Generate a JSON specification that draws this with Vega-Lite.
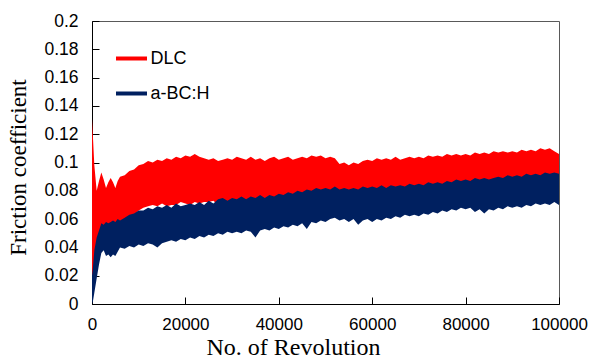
{
  "$schema": "https://vega.github.io/schema/vega-lite/v6.json",
  "width": 467,
  "height": 283,
  "autosize": {"type": "none"},
  "padding": {"left": 92, "top": 21, "right": 34, "bottom": 56},
  "background": "white",
  "config": {
    "view": {"stroke": "#595959", "strokeWidth": 1},
    "axis": {
      "grid": false,
      "domainColor": "#000000",
      "domainWidth": 1,
      "tickColor": "#000000",
      "tickWidth": 1,
      "labelColor": "#000000",
      "titleColor": "#000000",
      "labelFont": "Liberation Sans",
      "labelFontSize": 17,
      "titleFont": "Liberation Serif",
      "titleFontWeight": "normal"
    },
    "legend": {
      "orient": "none",
      "legendX": 22,
      "legendY": 20,
      "symbolType": "stroke",
      "symbolSize": 961,
      "symbolStrokeWidth": 4,
      "symbolOpacity": 1,
      "labelFont": "Liberation Sans",
      "labelFontSize": 18,
      "labelColor": "#000000",
      "rowPadding": 8,
      "labelOffset": 1.5
    }
  },
  "resolve": {"axis": {"x": "independent", "y": "independent"}},
  "data": {
    "values": [
      {"r": 0, "dh": 0.131, "dl": 0.018, "bh": 0.020, "bl": 0.000},
      {"r": 200, "dh": 0.118, "dl": 0.015, "bh": 0.026, "bl": 0.002},
      {"r": 500, "dh": 0.098, "dl": 0.030, "bh": 0.038, "bl": 0.008},
      {"r": 1000, "dh": 0.080, "dl": 0.044, "bh": 0.047, "bl": 0.018},
      {"r": 1500, "dh": 0.087, "dl": 0.049, "bh": 0.052, "bl": 0.028},
      {"r": 2000, "dh": 0.093, "dl": 0.054, "bh": 0.057, "bl": 0.036},
      {"r": 2500, "dh": 0.088, "dl": 0.053, "bh": 0.056, "bl": 0.038},
      {"r": 3000, "dh": 0.082, "dl": 0.055, "bh": 0.058, "bl": 0.034},
      {"r": 3500, "dh": 0.086, "dl": 0.054, "bh": 0.057, "bl": 0.035},
      {"r": 4000, "dh": 0.089, "dl": 0.055, "bh": 0.058, "bl": 0.033},
      {"r": 4500, "dh": 0.086, "dl": 0.055, "bh": 0.059, "bl": 0.035},
      {"r": 5000, "dh": 0.082, "dl": 0.055, "bh": 0.058, "bl": 0.034},
      {"r": 5500, "dh": 0.087, "dl": 0.056, "bh": 0.060, "bl": 0.037},
      {"r": 6000, "dh": 0.090, "dl": 0.056, "bh": 0.059, "bl": 0.040},
      {"r": 7000, "dh": 0.091, "dl": 0.059, "bh": 0.061, "bl": 0.039},
      {"r": 8000, "dh": 0.094, "dl": 0.061, "bh": 0.063, "bl": 0.041},
      {"r": 9000, "dh": 0.095, "dl": 0.063, "bh": 0.064, "bl": 0.040},
      {"r": 10000, "dh": 0.098, "dl": 0.066, "bh": 0.066, "bl": 0.042},
      {"r": 11000, "dh": 0.099, "dl": 0.068, "bh": 0.066, "bl": 0.041},
      {"r": 12000, "dh": 0.101, "dl": 0.069, "bh": 0.068, "bl": 0.043},
      {"r": 13000, "dh": 0.100, "dl": 0.070, "bh": 0.067, "bl": 0.042},
      {"r": 14000, "dh": 0.102, "dl": 0.069, "bh": 0.069, "bl": 0.040},
      {"r": 15000, "dh": 0.101, "dl": 0.071, "bh": 0.068, "bl": 0.043},
      {"r": 16000, "dh": 0.103, "dl": 0.069, "bh": 0.070, "bl": 0.044},
      {"r": 17000, "dh": 0.102, "dl": 0.070, "bh": 0.068, "bl": 0.045},
      {"r": 18000, "dh": 0.104, "dl": 0.070, "bh": 0.071, "bl": 0.044},
      {"r": 19000, "dh": 0.103, "dl": 0.072, "bh": 0.069, "bl": 0.046},
      {"r": 20000, "dh": 0.105, "dl": 0.071, "bh": 0.070, "bl": 0.045},
      {"r": 21000, "dh": 0.104, "dl": 0.070, "bh": 0.071, "bl": 0.047},
      {"r": 22000, "dh": 0.106, "dl": 0.072, "bh": 0.070, "bl": 0.046},
      {"r": 23000, "dh": 0.104, "dl": 0.071, "bh": 0.072, "bl": 0.048},
      {"r": 24000, "dh": 0.103, "dl": 0.072, "bh": 0.070, "bl": 0.047},
      {"r": 25000, "dh": 0.102, "dl": 0.072, "bh": 0.073, "bl": 0.049},
      {"r": 26000, "dh": 0.103, "dl": 0.073, "bh": 0.071, "bl": 0.048},
      {"r": 27000, "dh": 0.101, "dl": 0.070, "bh": 0.074, "bl": 0.050},
      {"r": 28000, "dh": 0.102, "dl": 0.071, "bh": 0.075, "bl": 0.049},
      {"r": 29000, "dh": 0.103, "dl": 0.069, "bh": 0.073, "bl": 0.051},
      {"r": 30000, "dh": 0.102, "dl": 0.071, "bh": 0.075, "bl": 0.050},
      {"r": 31000, "dh": 0.104, "dl": 0.070, "bh": 0.074, "bl": 0.051},
      {"r": 32000, "dh": 0.103, "dl": 0.072, "bh": 0.076, "bl": 0.050},
      {"r": 33000, "dh": 0.102, "dl": 0.070, "bh": 0.074, "bl": 0.052},
      {"r": 34000, "dh": 0.104, "dl": 0.072, "bh": 0.076, "bl": 0.051},
      {"r": 35000, "dh": 0.102, "dl": 0.071, "bh": 0.075, "bl": 0.047},
      {"r": 36000, "dh": 0.103, "dl": 0.073, "bh": 0.077, "bl": 0.052},
      {"r": 37000, "dh": 0.101, "dl": 0.071, "bh": 0.075, "bl": 0.053},
      {"r": 38000, "dh": 0.103, "dl": 0.073, "bh": 0.077, "bl": 0.052},
      {"r": 39000, "dh": 0.104, "dl": 0.072, "bh": 0.076, "bl": 0.054},
      {"r": 40000, "dh": 0.102, "dl": 0.074, "bh": 0.078, "bl": 0.053},
      {"r": 41000, "dh": 0.103, "dl": 0.073, "bh": 0.077, "bl": 0.055},
      {"r": 42000, "dh": 0.104, "dl": 0.075, "bh": 0.079, "bl": 0.054},
      {"r": 43000, "dh": 0.102, "dl": 0.074, "bh": 0.078, "bl": 0.056},
      {"r": 44000, "dh": 0.103, "dl": 0.076, "bh": 0.080, "bl": 0.055},
      {"r": 45000, "dh": 0.104, "dl": 0.075, "bh": 0.079, "bl": 0.057},
      {"r": 46000, "dh": 0.103, "dl": 0.077, "bh": 0.081, "bl": 0.053},
      {"r": 47000, "dh": 0.105, "dl": 0.076, "bh": 0.080, "bl": 0.058},
      {"r": 48000, "dh": 0.104, "dl": 0.078, "bh": 0.082, "bl": 0.057},
      {"r": 49000, "dh": 0.105, "dl": 0.077, "bh": 0.081, "bl": 0.059},
      {"r": 50000, "dh": 0.103, "dl": 0.078, "bh": 0.082, "bl": 0.058},
      {"r": 51000, "dh": 0.104, "dl": 0.077, "bh": 0.081, "bl": 0.060},
      {"r": 52000, "dh": 0.103, "dl": 0.079, "bh": 0.083, "bl": 0.061},
      {"r": 53000, "dh": 0.099, "dl": 0.077, "bh": 0.081, "bl": 0.059},
      {"r": 54000, "dh": 0.100, "dl": 0.078, "bh": 0.082, "bl": 0.060},
      {"r": 55000, "dh": 0.098, "dl": 0.077, "bh": 0.081, "bl": 0.058},
      {"r": 56000, "dh": 0.100, "dl": 0.078, "bh": 0.082, "bl": 0.060},
      {"r": 57000, "dh": 0.099, "dl": 0.077, "bh": 0.081, "bl": 0.056},
      {"r": 58000, "dh": 0.101, "dl": 0.079, "bh": 0.083, "bl": 0.059},
      {"r": 59000, "dh": 0.102, "dl": 0.078, "bh": 0.082, "bl": 0.060},
      {"r": 60000, "dh": 0.101, "dl": 0.079, "bh": 0.083, "bl": 0.058},
      {"r": 61000, "dh": 0.103, "dl": 0.078, "bh": 0.082, "bl": 0.060},
      {"r": 62000, "dh": 0.102, "dl": 0.080, "bh": 0.084, "bl": 0.059},
      {"r": 63000, "dh": 0.103, "dl": 0.078, "bh": 0.082, "bl": 0.061},
      {"r": 64000, "dh": 0.102, "dl": 0.080, "bh": 0.084, "bl": 0.060},
      {"r": 65000, "dh": 0.104, "dl": 0.079, "bh": 0.083, "bl": 0.062},
      {"r": 66000, "dh": 0.102, "dl": 0.080, "bh": 0.084, "bl": 0.061},
      {"r": 67000, "dh": 0.103, "dl": 0.079, "bh": 0.083, "bl": 0.063},
      {"r": 68000, "dh": 0.104, "dl": 0.081, "bh": 0.085, "bl": 0.062},
      {"r": 69000, "dh": 0.103, "dl": 0.080, "bh": 0.084, "bl": 0.063},
      {"r": 70000, "dh": 0.104, "dl": 0.081, "bh": 0.085, "bl": 0.062},
      {"r": 71000, "dh": 0.103, "dl": 0.080, "bh": 0.084, "bl": 0.064},
      {"r": 72000, "dh": 0.105, "dl": 0.082, "bh": 0.086, "bl": 0.063},
      {"r": 73000, "dh": 0.104, "dl": 0.081, "bh": 0.085, "bl": 0.065},
      {"r": 74000, "dh": 0.105, "dl": 0.082, "bh": 0.086, "bl": 0.064},
      {"r": 75000, "dh": 0.104, "dl": 0.081, "bh": 0.085, "bl": 0.066},
      {"r": 76000, "dh": 0.106, "dl": 0.083, "bh": 0.087, "bl": 0.065},
      {"r": 77000, "dh": 0.105, "dl": 0.082, "bh": 0.086, "bl": 0.067},
      {"r": 78000, "dh": 0.106, "dl": 0.084, "bh": 0.088, "bl": 0.066},
      {"r": 79000, "dh": 0.105, "dl": 0.083, "bh": 0.087, "bl": 0.068},
      {"r": 80000, "dh": 0.106, "dl": 0.084, "bh": 0.088, "bl": 0.067},
      {"r": 81000, "dh": 0.105, "dl": 0.083, "bh": 0.087, "bl": 0.068},
      {"r": 82000, "dh": 0.107, "dl": 0.085, "bh": 0.089, "bl": 0.065},
      {"r": 83000, "dh": 0.106, "dl": 0.084, "bh": 0.088, "bl": 0.067},
      {"r": 84000, "dh": 0.107, "dl": 0.085, "bh": 0.089, "bl": 0.064},
      {"r": 85000, "dh": 0.106, "dl": 0.084, "bh": 0.088, "bl": 0.067},
      {"r": 86000, "dh": 0.108, "dl": 0.085, "bh": 0.089, "bl": 0.066},
      {"r": 87000, "dh": 0.107, "dl": 0.086, "bh": 0.090, "bl": 0.068},
      {"r": 88000, "dh": 0.108, "dl": 0.085, "bh": 0.089, "bl": 0.067},
      {"r": 89000, "dh": 0.107, "dl": 0.087, "bh": 0.091, "bl": 0.069},
      {"r": 90000, "dh": 0.108, "dl": 0.086, "bh": 0.090, "bl": 0.068},
      {"r": 91000, "dh": 0.107, "dl": 0.087, "bh": 0.091, "bl": 0.069},
      {"r": 92000, "dh": 0.109, "dl": 0.086, "bh": 0.090, "bl": 0.068},
      {"r": 93000, "dh": 0.108, "dl": 0.088, "bh": 0.092, "bl": 0.070},
      {"r": 94000, "dh": 0.109, "dl": 0.087, "bh": 0.091, "bl": 0.069},
      {"r": 95000, "dh": 0.108, "dl": 0.088, "bh": 0.092, "bl": 0.071},
      {"r": 96000, "dh": 0.110, "dl": 0.087, "bh": 0.091, "bl": 0.070},
      {"r": 97000, "dh": 0.109, "dl": 0.089, "bh": 0.093, "bl": 0.071},
      {"r": 98000, "dh": 0.110, "dl": 0.088, "bh": 0.092, "bl": 0.070},
      {"r": 99000, "dh": 0.108, "dl": 0.089, "bh": 0.093, "bl": 0.072},
      {"r": 100000, "dh": 0.106, "dl": 0.088, "bh": 0.092, "bl": 0.070}
    ]
  },
  "layer": [
    {
      "mark": {"type": "area", "opacity": 1},
      "encoding": {
        "x": {
          "field": "r",
          "type": "quantitative",
          "title": "No. of Revolution",
          "scale": {"domain": [0, 100000], "nice": false},
          "axis": {
            "orient": "bottom",
            "values": [0, 20000, 40000, 60000, 80000, 100000],
            "tickCount": 12,
            "format": "d",
            "ticks": true,
            "tickSize": 0,
            "labelPadding": 12,
            "labelOverlap": false,
            "labelFlush": false,
            "titleFontSize": 24,
            "titleX": 201,
            "titleY": 50,
            "titleAlign": "center",
            "titleBaseline": "alphabetic"
          }
        },
        "y": {
          "field": "dl",
          "type": "quantitative",
          "title": "Friction coefficient",
          "scale": {"domain": [0, 0.2], "nice": false},
          "axis": {
            "orient": "left",
            "values": [0, 0.02, 0.04, 0.06, 0.08, 0.1, 0.12, 0.14, 0.16, 0.18, 0.2],
            "tickCount": 12,
            "format": ".2~f",
            "ticks": true,
            "tickSize": 0,
            "labelPadding": 14,
            "labelFontSize": 17.5,
            "labelOverlap": false,
            "labelFlush": false,
            "labelBound": false,
            "titleFontSize": 23,
            "titleX": -62,
            "titleY": 146,
            "titleAlign": "center"
          }
        },
        "y2": {"field": "dh"},
        "color": {
          "datum": "DLC",
          "type": "nominal",
          "scale": {"domain": ["DLC", "a-BC:H"], "range": ["#ff0000", "#002060"]},
          "legend": {
            "title": null,
            "encode": {
              "symbols": {
                "update": {
                  "stroke": {"scale": "color", "field": "value"},
                  "fill": {"value": "transparent"}
                }
              }
            }
          }
        }
      }
    },
    {
      "mark": {"type": "area", "opacity": 1},
      "encoding": {
        "x": {
          "field": "r",
          "type": "quantitative",
          "axis": {
            "orient": "bottom",
            "offset": -7,
            "title": null,
            "domain": false,
            "labels": false,
            "ticks": true,
            "tickSize": 7,
            "values": [0, 20000, 40000, 60000, 80000, 100000],
            "tickCount": 12
          }
        },
        "y": {
          "field": "bl",
          "type": "quantitative",
          "axis": {
            "orient": "left",
            "offset": -7,
            "title": null,
            "domain": false,
            "labels": false,
            "ticks": true,
            "tickSize": 7,
            "values": [0, 0.02, 0.04, 0.06, 0.08, 0.1, 0.12, 0.14, 0.16, 0.18, 0.2],
            "tickCount": 12
          }
        },
        "y2": {"field": "bh"},
        "color": {"datum": "a-BC:H", "type": "nominal"}
      }
    }
  ]
}
